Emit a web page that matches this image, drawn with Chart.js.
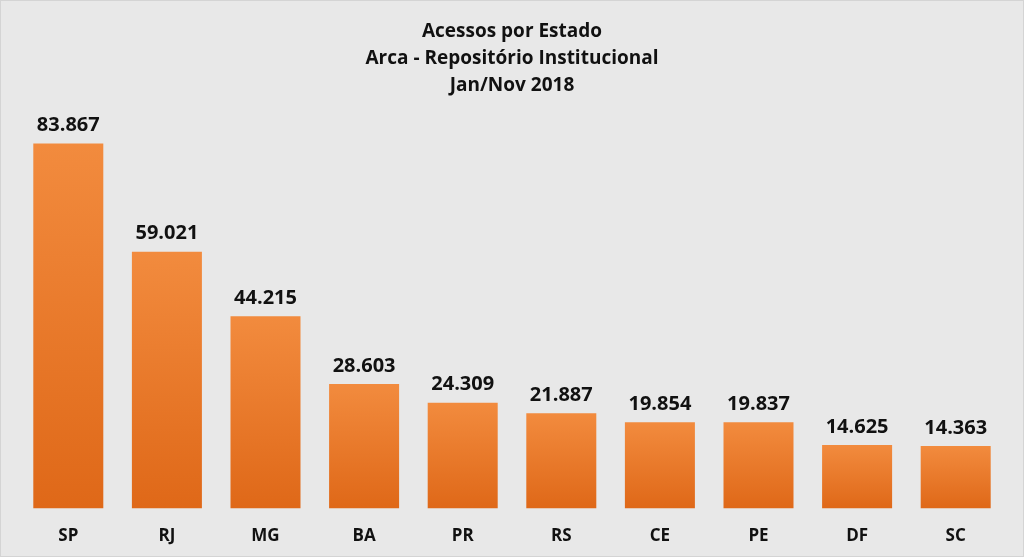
<!DOCTYPE html>
<html>
<head>
<meta charset="utf-8">
<script src="https://cdn.jsdelivr.net/npm/chart.js@4"></script>
<style>
  html, body { margin: 0; padding: 0; background: #e8e8e8; }
  #wrap { width: 1022px; height: 555px; border: 1px solid #d4d4d4; position: relative; }
</style>
</head>
<body>
<div id="wrap"><canvas id="chart"></canvas></div>
<script>
const estados = ["SP", "RJ", "MG", "BA", "PR", "RS", "CE", "PE", "DF", "SC"];
const acessos = [83867, 59021, 44215, 28603, 24309, 21887, 19854, 19837, 14625, 14363];
const titulo = ["Acessos por Estado", "Arca - Repositório Institucional", "Jan/Nov 2018"];

const fontFamily = "'Open Sans', 'DejaVu Sans', sans-serif";

function formatBR(n) {
    return n.toString().replace(/\B(?=(\d{3})+(?!\d))/g, ".");
}

// draws value above each bar
const valueLabels = {
    id: "valueLabels",
    afterDatasetsDraw(chart) {
        const ctx = chart.ctx;
        const meta = chart.getDatasetMeta(0);
        ctx.save();
        ctx.font = "bold 20px " + fontFamily;
        ctx.fillStyle = "#111";
        ctx.textAlign = "center";
        ctx.textBaseline = "middle";
        meta.data.forEach((bar, i) => {
            ctx.fillText(formatBR(acessos[i]), bar.x, bar.y - 18);
        });
        ctx.restore();
    }
};

// each bar gets its own light-to-dark gradient
function barGradient(context) {
    const chart = context.chart;
    const area = chart.chartArea;
    if (!area || !chart.scales.y) return "#e8782c";
    const top = chart.scales.y.getPixelForValue(acessos[context.dataIndex]);
    const g = chart.ctx.createLinearGradient(0, top, 0, area.bottom);
    g.addColorStop(0, "#f28b3e");
    g.addColorStop(1, "#df6818");
    return g;
}

const ctx = document.getElementById("chart").getContext("2d");
new Chart(ctx, {
    type: "bar",
    data: {
        labels: estados,
        datasets: [{
            data: acessos,
            backgroundColor: barGradient,
            borderWidth: 0,
            barPercentage: 0.71,
            categoryPercentage: 1
        }]
    },
    options: {
        responsive: true,
        maintainAspectRatio: false,
        animation: false,
        layout: { padding: { left: 18, right: 18, top: 0, bottom: 1 } },
        plugins: {
            legend: { display: false },
            tooltip: { enabled: false },
            title: {
                display: true,
                text: titulo,
                color: "#111",
                font: { family: fontFamily, size: 19, weight: "bold", lineHeight: 1.42 },
                padding: { top: 17, bottom: 4 }
            }
        },
        scales: {
            x: {
                grid: { display: false },
                border: { display: false },
                ticks: {
                    color: "#111",
                    padding: 9,
                    font: { family: fontFamily, size: 17, weight: "bold" }
                }
            },
            y: {
                display: false,
                min: 0,
                max: 93200
            }
        }
    },
    plugins: [valueLabels]
});
</script>
</body>
</html>
